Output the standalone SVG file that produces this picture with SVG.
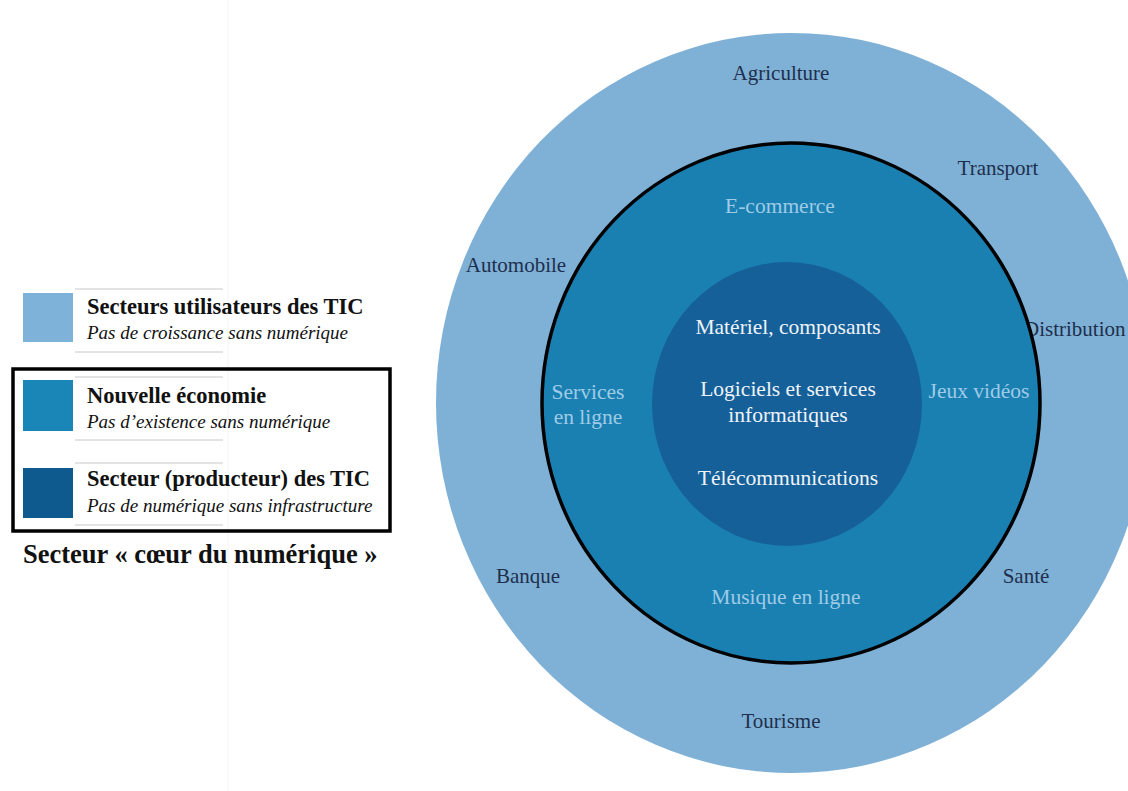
<svg xmlns="http://www.w3.org/2000/svg" width="1128" height="791" viewBox="0 0 1128 791">
<style>
.outer{font-family:"Liberation Serif","DejaVu Serif",serif;font-size:21px;fill:#1e2f4d;text-anchor:middle}
.mid{font-family:"Liberation Serif","DejaVu Serif",serif;font-size:21.5px;fill:#9fcbe6;text-anchor:middle}
.inn{font-family:"Liberation Serif","DejaVu Serif",serif;font-size:21.5px;fill:#eef3f8;text-anchor:middle}
.lb{font-family:"Liberation Serif","DejaVu Serif",serif;font-size:22.5px;font-weight:bold;fill:#111}
.li{font-family:"Liberation Serif","DejaVu Serif",serif;font-size:19px;font-style:italic;fill:#111}
.faint{stroke:#c8c8c8;stroke-width:1}
</style>
<rect width="1128" height="791" fill="#ffffff"/>
<line x1="228" y1="0" x2="228" y2="791" stroke="#f3f3f3" stroke-width="1"/>
<g id="outer-ring">
<ellipse cx="792" cy="403" rx="356" ry="370" fill="#7fb1d6"/>
<text class="outer" x="781" y="80">Agriculture</text>
<text class="outer" x="998" y="175">Transport</text>
<text class="outer" x="516" y="272">Automobile</text>
<text class="outer" x="1024" y="336" style="text-anchor:start">Distribution</text>
<text class="outer" x="528" y="583">Banque</text>
<text class="outer" x="1026" y="583">Santé</text>
<text class="outer" x="781" y="728">Tourisme</text>
</g>
<g id="middle-ring">
<ellipse cx="791" cy="403" rx="249" ry="260" fill="#1a80b2" stroke="#000" stroke-width="3.5"/>
<text class="mid" x="780" y="213">E-commerce</text>
<text class="mid" x="588" y="399">Services</text>
<text class="mid" x="588" y="424">en ligne</text>
<text class="mid" x="979" y="398">Jeux vidéos</text>
<text class="mid" x="786" y="604">Musique en ligne</text>
</g>
<g id="inner-core">
<ellipse cx="787" cy="404" rx="135" ry="142" fill="#16609a"/>
<text class="inn" x="788" y="334">Matériel, composants</text>
<text class="inn" x="788" y="396">Logiciels et services</text>
<text class="inn" x="788" y="422">informatiques</text>
<text class="inn" x="788" y="485">Télécommunications</text>
</g>
<g id="legend-users">
<rect x="23" y="293" width="50" height="49" fill="#7fb2d9"/>
<line class="faint" x1="75" y1="289" x2="223" y2="289"/>
<line class="faint" x1="75" y1="352" x2="223" y2="352"/>
<text class="lb" x="87" y="314">Secteurs utilisateurs des TIC</text>
<text class="li" x="87" y="339">Pas de croissance sans numérique</text>
</g>
<g id="legend-core-box">
<rect x="13" y="369" width="377" height="162" fill="none" stroke="#000" stroke-width="3.5"/>
<text class="lb" x="23" y="563" style="font-size:26.5px">Secteur « cœur du numérique »</text>
</g>
<g id="legend-new-economy">
<rect x="23" y="380" width="50" height="51" fill="#1a86b8"/>
<line class="faint" x1="75" y1="377" x2="223" y2="377" stroke="#999"/>
<line class="faint" x1="75" y1="440" x2="223" y2="440"/>
<text class="lb" x="87" y="403">Nouvelle économie</text>
<text class="li" x="87" y="428">Pas d’existence sans numérique</text>
</g>
<g id="legend-producers">
<rect x="23" y="468" width="50" height="50" fill="#0e5a8f"/>
<line class="faint" x1="75" y1="463" x2="223" y2="463" stroke="#777"/>
<line class="faint" x1="75" y1="525" x2="223" y2="525"/>
<text class="lb" x="87" y="486">Secteur (producteur) des TIC</text>
<text class="li" x="87" y="512">Pas de numérique sans infrastructure</text>
</g>
<g id="connectors"></g>
</svg>
